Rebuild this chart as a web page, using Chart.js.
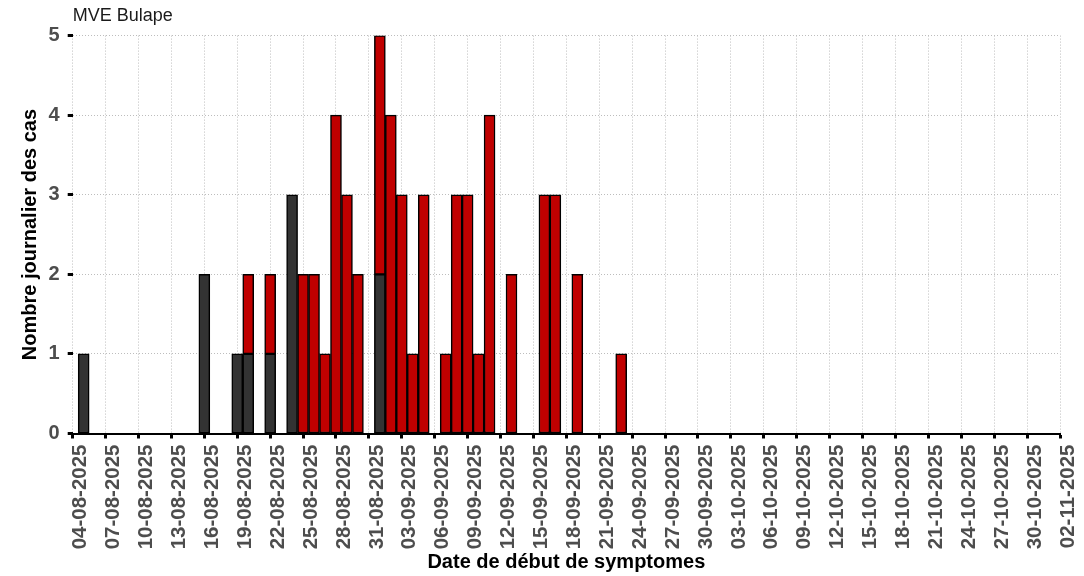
<!DOCTYPE html>
<html>
<head>
<meta charset="utf-8">
<script src="https://cdn.jsdelivr.net/npm/chart.js@4.4.1/dist/chart.umd.min.js"></script>
<style>
  html, body { margin: 0; padding: 0; background: #ffffff; }
  #wrap { position: relative; width: 1084px; height: 576px; }
</style>
</head>
<body>
<div id="wrap"><canvas id="c"></canvas></div>
<script>
// ---- Data ----
const chartTitle = 'MVE Bulape';
const xTitle = 'Date de début de symptomes';
const yTitle = 'Nombre journalier des cas';
const startDate = '04-08-2025';

const tickLabels = [
  '04-08-2025','07-08-2025','10-08-2025','13-08-2025','16-08-2025','19-08-2025',
  '22-08-2025','25-08-2025','28-08-2025','31-08-2025','03-09-2025','06-09-2025',
  '09-09-2025','12-09-2025','15-09-2025','18-09-2025','21-09-2025','24-09-2025',
  '27-09-2025','30-09-2025','03-10-2025','06-10-2025','09-10-2025','12-10-2025',
  '15-10-2025','18-10-2025','21-10-2025','24-10-2025','27-10-2025','30-10-2025',
  '02-11-2025'
];

const caseDates = [
  '05-08-2025','16-08-2025','19-08-2025','20-08-2025','22-08-2025','24-08-2025',
  '25-08-2025','26-08-2025','27-08-2025','28-08-2025','29-08-2025','30-08-2025',
  '01-09-2025','02-09-2025','03-09-2025','04-09-2025','05-09-2025','07-09-2025',
  '08-09-2025','09-09-2025','10-09-2025','11-09-2025','13-09-2025','16-09-2025',
  '17-09-2025','19-09-2025','23-09-2025'
];
const probable  = [1,2,1,1,1,3, 0,0,0,0,0,0, 2,0,0,0,0,0, 0,0,0,0,0,0, 0,0,0];
const confirmed = [0,0,0,1,1,0, 2,2,1,4,3,2, 3,4,3,1,3,1, 3,3,1,4,2,3, 3,2,1];

const yTicks = [0,1,2,3,4,5];

// ---- helpers ----
function toUTC(s) { const p = s.split('-').map(Number); return Date.UTC(p[2], p[1]-1, p[0]); }
function dayIndex(s) { return Math.round((toUTC(s) - toUTC(startDate)) / 86400000); }

const xMax = dayIndex(tickLabels[tickLabels.length - 1]);
const tickStep = dayIndex(tickLabels[1]);

const FONT = '"Liberation Sans", Arial, sans-serif';

new Chart(document.getElementById('c'), {
  type: 'bar',
  data: {
    datasets: [
      {
        label: 'Probable',
        data: caseDates.map((d, i) => ({ x: dayIndex(d), y: probable[i] })),
        backgroundColor: '#333333',
        borderColor: '#000000',
        borderWidth: 1.5,
        borderSkipped: false,
        categoryPercentage: 1,
        barPercentage: 1
      },
      {
        label: 'Confirmé',
        data: caseDates.map((d, i) => ({ x: dayIndex(d), y: confirmed[i] })),
        backgroundColor: '#c00000',
        borderColor: '#000000',
        borderWidth: 1.5,
        borderSkipped: false,
        categoryPercentage: 1,
        barPercentage: 1
      }
    ]
  },
  options: {
    responsive: true,
    maintainAspectRatio: false,
    animation: false,
    layout: { padding: { top: 0, right: 24, bottom: 0, left: 0 } },
    plugins: {
      legend: { display: false },
      tooltip: { enabled: false },
      title: {
        display: true,
        text: chartTitle,
        align: 'start',
        fullSize: false,
        color: '#1a1a1a',
        font: { family: FONT, size: 18, weight: 'normal' },
        padding: { top: 5, bottom: 9 }
      }
    },
    scales: {
      x: {
        type: 'linear',
        stacked: true,
        offset: false,
        min: 0,
        max: xMax,
        afterFit: (s) => { s.height = 142.5; s.paddingLeft = 0; s.paddingRight = 0; },
        grid: {
          offset: false,
          color: '#bdbdbd',
          lineWidth: 1,
          drawTicks: true,
          tickLength: 5,
          tickWidth: 3,
          tickColor: '#000000'
        },
        border: { display: true, color: '#000000', width: 2, dash: [1, 2] },
        ticks: {
          stepSize: tickStep,
          autoSkip: false,
          minRotation: 90,
          maxRotation: 90,
          padding: 6,
          labelOffset: 8,
          color: '#4d4d4d',
          font: { family: FONT, size: 20.5, weight: 'bold' },
          callback: (v) => tickLabels[Math.round(v / tickStep)]
        },
        title: {
          display: true,
          text: xTitle,
          color: '#000000',
          font: { family: FONT, size: 20, weight: 'bold' },
          padding: { top: 0, bottom: 2 }
        }
      },
      y: {
        stacked: true,
        min: 0,
        max: yTicks[yTicks.length - 1],
        afterFit: (s) => { s.width = 72.7; },
        afterBuildTicks: (s) => { s.ticks = yTicks.map(v => ({ value: v })); },
        grid: {
          color: '#bdbdbd',
          lineWidth: 1,
          drawTicks: true,
          tickLength: 5,
          tickWidth: 3,
          tickColor: '#000000'
        },
        border: { display: false, dash: [1, 2] },
        ticks: {
          padding: 8,
          color: '#4d4d4d',
          font: { family: FONT, size: 20, weight: 'bold' }
        },
        title: {
          display: true,
          text: yTitle,
          color: '#000000',
          font: { family: FONT, size: 20, weight: 'bold' },
          padding: { top: 18, bottom: 0 }
        }
      }
    }
  }
});
</script>
</body>
</html>
